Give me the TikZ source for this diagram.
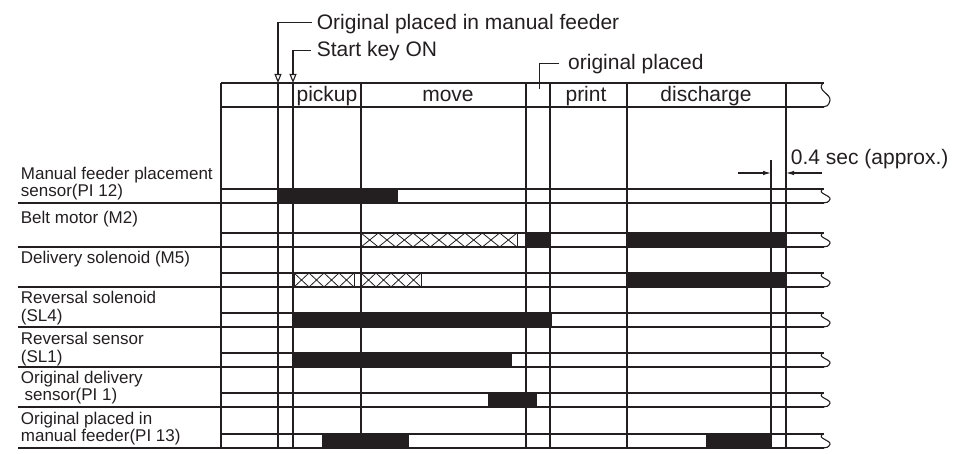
\documentclass[tikz,border=0pt]{standalone}
\usepackage{fontspec}
\setmainfont{Liberation Sans}
\usetikzlibrary{arrows.meta}
\definecolor{ink}{HTML}{231F20}
\newcommand\hatchstrip[5]{%
  \begin{scope}
    \clip (#1,#2) rectangle (#3,#4);
    \pgfmathsetmacro\hcw{(#3-#1)/#5}
    \pgfmathtruncatemacro\hnn{#5-1}
    \foreach \k in {0,...,\hnn}{
      \draw[hatchline] ({#1+\k*\hcw},#2) -- ({#1+(\k+1)*\hcw},#4);
      \draw[hatchline] ({#1+\k*\hcw},#4) -- ({#1+(\k+1)*\hcw},#2);
    }
  \end{scope}
  \draw[hatchline] (#1,#2) rectangle (#3,#4);
}
\begin{document}
\begin{tikzpicture}[x=1pt,y=-1pt,
  thinline/.style={line width=1.1pt,draw=ink},
  sepline/.style={line width=1.6pt,draw=ink},
  hatchline/.style={line width=0.8pt,draw=ink},
  onbar/.style={fill=ink},
  lab/.style={font=\fontsize{17}{17}\selectfont,anchor=base west,inner sep=0,text=ink},
  head/.style={font=\fontsize{21}{21}\selectfont,anchor=base,inner sep=0,text=ink},
  callout/.style={font=\fontsize{21}{21}\selectfont,anchor=base west,inner sep=0,text=ink},
  opentip/.style={-{Triangle[open,length=9pt,width=7pt]}},
  dimtip/.style={-{Latex[length=8pt,width=4.5pt]}}]
\useasboundingbox (0,0) rectangle (953,454);

% ---- bars ----
\fill[onbar] (278,189) rectangle (398,203);
\hatchstrip{361}{233}{517}{247}{9}
\fill[onbar] (526,233) rectangle (550,247);
\fill[onbar] (627,233) rectangle (786,247);
\hatchstrip{294}{273}{354}{287}{4}
\hatchstrip{361}{273}{421}{287}{4}
\fill[onbar] (627,273) rectangle (786,287);
\fill[onbar] (293,313) rectangle (552,327);
\fill[onbar] (293,353) rectangle (512,367);
\fill[onbar] (488,393) rectangle (537,407);
\fill[onbar] (322,434) rectangle (409,448);
\fill[onbar] (706,434) rectangle (771,448);

% ---- horizontal lines ----
\draw[sepline] (221,83) -- (824,83);
\draw[sepline] (221,107) -- (824,107);
\foreach \t in {189,233,273,313,353,393,434}
  \draw[thinline] (221,\t) -- (824,\t);
\foreach \b in {203,247,287,327,367,407,448}
  \draw[sepline] (18,\b) -- (824,\b);

% ---- break marks ----
\foreach \t/\b in {83/107,189/203,233/247,273/287,313/327,353/367,393/407,434/448}{
  \pgfmathsetmacro\hh{\b-\t}
  \draw[thinline] (823,\t) .. controls (816,{\t+0.3*\hh}) and (831,{\t+0.45*\hh}) .. (830,{\t+0.72*\hh})
                         .. controls (829,{\t+0.95*\hh}) and (826,\b) .. (823,\b);
}

% ---- vertical lines ----
\draw[sepline] (221,83) -- (221,448);
\foreach \x in {278,293,361,526,550,627,786}
  \draw[thinline] (\x,83) -- (\x,448);
\draw[thinline] (771,160) -- (771,448);

% ---- header ----
\node[head] (hPick) at (327,102) {pickup};
\node[head] (hMove) at (448,102) {move};
\node[head] (hPrint) at (586,102) {print};
\node[head] (hDis) at (706,102) {discharge};

% ---- callouts ----
\node[callout] (cOrig) at (316.7,29.3) {Original placed in manual feeder};
\node[callout] (cStart) at (316.7,56.7) {Start key ON};
\node[callout] (cPlaced) at (568,69.3) {original placed};
\coordinate (tipA) at (278,83);
\coordinate (tipB) at (293,83);
\coordinate (endC) at (539.5,89);
\draw[thinline,opentip] ([xshift=-5pt,yshift=1pt]cOrig.west) -| (tipA);
\draw[thinline,opentip] ([xshift=-6pt,yshift=1pt]cStart.west) -| (tipB);
\draw[thinline] ([xshift=-9pt]cPlaced.west) -| (endC);

% ---- 0.4 sec ----
\node[callout] (cSec) at (790.7,165) {0.4 sec (approx.)};
\coordinate (dimL0) at (738,173);
\coordinate (dimL1) at (771,173);
\coordinate (dimR0) at (822,173);
\coordinate (dimR1) at (786,173);
\draw[thinline,dimtip] (dimL0) -- (dimL1);
\draw[thinline,dimtip] (dimR0) -- (dimR1);

% ---- row labels ----
\node[lab] (l1a) at (20.7,180) {Manual feeder placement};
\node[lab] (l1b) at (20.7,197) {sensor(PI 12)};
\node[lab] (l2a) at (20.7,224) {Belt motor (M2)};
\node[lab] (l3a) at (20.7,264) {Delivery solenoid (M5)};
\node[lab] (l4a) at (20.7,304) {Reversal solenoid};
\node[lab] (l4b) at (20.7,322) {(SL4)};
\node[lab] (l5a) at (20.7,344) {Reversal sensor};
\node[lab] (l5b) at (20.7,362.5) {(SL1)};
\node[lab] (l6a) at (20.7,383.3) {Original delivery};
\node[lab] (l6b) at (24.5,400.7) {sensor(PI 1)};
\node[lab] (l7a) at (20.7,424) {Original placed in};
\node[lab] (l7b) at (20.7,441.7) {manual feeder(PI 13)};
\end{tikzpicture}
\end{document}
